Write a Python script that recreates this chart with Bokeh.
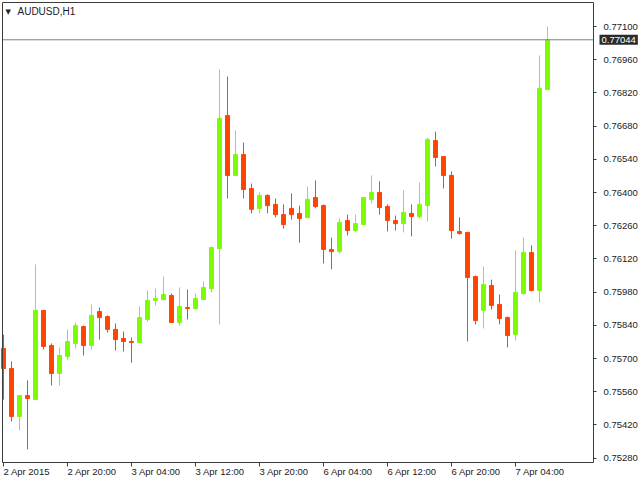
from bokeh.plotting import figure
from bokeh.models import (ColumnDataSource, FixedTicker, PrintfTickFormatter,
                          Label, Range1d, LinearAxis)
from bokeh.embed import file_html
from bokeh.resources import INLINE

symbol = "AUDUSD,H1"
bar_index = list(range(69))

open_ = [0.75742, 0.75658, 0.75456, 0.75544, 0.75527, 0.75903, 0.75755, 0.75637, 0.75709, 0.75764,
         0.75835, 0.75755, 0.75898, 0.75877, 0.75823, 0.75785, 0.75772, 0.75768, 0.75865, 0.75945,
         0.75949, 0.75966, 0.75852, 0.75915, 0.75911, 0.75949, 0.75995, 0.76164, 0.76725, 0.76472,
         0.76560, 0.76417, 0.76333, 0.76388, 0.76350, 0.76307, 0.76333, 0.76312, 0.76295, 0.76379,
         0.76345, 0.76160, 0.76151, 0.76282, 0.76240, 0.76265, 0.76371, 0.76400, 0.76341, 0.76282,
         0.76269, 0.76312, 0.76299, 0.76345, 0.76619, 0.76552, 0.76472, 0.76236, 0.76232, 0.76046,
         0.75903, 0.76008, 0.75928, 0.75873, 0.75801, 0.75974, 0.76147, 0.75987, 0.76834]

close = [0.75658, 0.75456, 0.75544, 0.75532, 0.75903, 0.75751, 0.75637, 0.75713, 0.75772, 0.75839,
         0.75755, 0.75882, 0.75873, 0.75823, 0.75780, 0.75772, 0.75768, 0.75873, 0.75945, 0.75953,
         0.75970, 0.75852, 0.75920, 0.75911, 0.75953, 0.76000, 0.76168, 0.76712, 0.76472, 0.76560,
         0.76413, 0.76329, 0.76388, 0.76345, 0.76307, 0.76265, 0.76307, 0.76291, 0.76371, 0.76341,
         0.76160, 0.76151, 0.76274, 0.76240, 0.76269, 0.76379, 0.76400, 0.76337, 0.76282, 0.76269,
         0.76316, 0.76299, 0.76350, 0.76624, 0.76548, 0.76472, 0.76240, 0.76227, 0.76042, 0.75860,
         0.76012, 0.75924, 0.75869, 0.75797, 0.75979, 0.76147, 0.75987, 0.76839, 0.77044]

high = [0.75801, 0.75688, 0.75544, 0.75608, 0.76097, 0.75903, 0.75764, 0.75747, 0.75823, 0.75852,
        0.75839, 0.75928, 0.75915, 0.75882, 0.75848, 0.75814, 0.75789, 0.75920, 0.75987, 0.75995,
        0.76046, 0.75974, 0.76000, 0.75991, 0.75974, 0.76025, 0.76172, 0.76919, 0.76889, 0.76662,
        0.76611, 0.76438, 0.76400, 0.76392, 0.76375, 0.76350, 0.76396, 0.76345, 0.76425, 0.76451,
        0.76350, 0.76210, 0.76291, 0.76307, 0.76307, 0.76379, 0.76472, 0.76447, 0.76350, 0.76303,
        0.76409, 0.76350, 0.76442, 0.76632, 0.76657, 0.76552, 0.76489, 0.76295, 0.76232, 0.76050,
        0.76088, 0.76033, 0.75970, 0.75877, 0.76156, 0.76210, 0.76177, 0.76978, 0.77100]

low = [0.75527, 0.75435, 0.75397, 0.75317, 0.75527, 0.75738, 0.75586, 0.75586, 0.75696, 0.75742,
       0.75713, 0.75738, 0.75780, 0.75810, 0.75734, 0.75730, 0.75683, 0.75768, 0.75856, 0.75924,
       0.75945, 0.75852, 0.75839, 0.75865, 0.75907, 0.75949, 0.75979, 0.75844, 0.76375, 0.76472,
       0.76375, 0.76312, 0.76312, 0.76312, 0.76295, 0.76248, 0.76286, 0.76189, 0.76291, 0.76333,
       0.76101, 0.76076, 0.76143, 0.76219, 0.76232, 0.76265, 0.76354, 0.76307, 0.76236, 0.76240,
       0.76232, 0.76215, 0.76291, 0.76278, 0.76510, 0.76417, 0.76206, 0.76223, 0.75772, 0.75844,
       0.75827, 0.75907, 0.75844, 0.75747, 0.75776, 0.75970, 0.75983, 0.75936, 0.76834]

price_ticks = [0.75280, 0.75420, 0.75560, 0.75700, 0.75840, 0.75980, 0.76120,
               0.76260, 0.76400, 0.76540, 0.76680, 0.76820, 0.76960, 0.77100]
time_tick_index = [0, 8, 16, 24, 32, 40, 48, 56, 64]
time_tick_labels = ["2 Apr 2015", "2 Apr 20:00", "3 Apr 04:00", "3 Apr 12:00",
                    "3 Apr 20:00", "6 Apr 04:00", "6 Apr 12:00", "6 Apr 20:00",
                    "7 Apr 04:00"]
last_price = 0.77044

# ---- styling / layout constants ----
BULL = "#7CFC00"
BEAR = "#FF4500"
FRAME = "#3c3c3c"
TEXT = "#222222"
FONT = "Liberation Sans"
W, H = 640, 480
BAR_PX = 8.0            # pixels per bar
PRICE_PER_PX = 0.00004216

x_start = -3.0 / BAR_PX
x_end = x_start + W / BAR_PX
x_left_edge = x_start + 2 / BAR_PX
x_price_axis = x_start + 593 / BAR_PX
y_end = 0.77100 + 26 * PRICE_PER_PX
y_start = y_end - H * PRICE_PER_PX
y_top_edge = y_end - 2 * PRICE_PER_PX
y_time_axis = y_end - 462 * PRICE_PER_PX

colors = [BULL if c >= o else BEAR for o, c in zip(open_, close)]
src = ColumnDataSource(dict(
    x=bar_index, open=open_, close=close, high=high, low=low,
    top=[max(o, c) for o, c in zip(open_, close)],
    bottom=[min(o, c) for o, c in zip(open_, close)],
    color=colors,
))

p = figure(width=W, height=H, output_backend="svg", toolbar_location=None,
           x_range=Range1d(x_start, x_end), y_range=Range1d(y_start, y_end),
           y_axis_location="right", min_border=0)
p.grid.visible = False
p.outline_line_color = None
p.background_fill_color = "white"
p.border_fill_color = "white"

# price axis (right)
ya = p.yaxis[0]
ya.fixed_location = x_price_axis
ya.bounds = (y_time_axis, y_top_edge)
ya.ticker = FixedTicker(ticks=price_ticks)
ya.formatter = PrintfTickFormatter(format="%.5f")
ya.major_tick_in = 0
ya.major_tick_out = 3
ya.minor_tick_out = 0
ya.minor_tick_in = 0
ya.axis_line_color = FRAME
ya.major_tick_line_color = FRAME
ya.major_label_standoff = 7
ya.major_label_text_font = FONT
ya.major_label_text_font_size = "9.5px"
ya.major_label_text_color = TEXT

# time axis (bottom): tick marks only, labels drawn left-aligned below
xa = p.xaxis[0]
xa.fixed_location = y_time_axis
xa.bounds = (x_left_edge, x_price_axis)
xa.ticker = FixedTicker(ticks=[], minor_ticks=time_tick_index)
xa.major_tick_in = 0
xa.major_tick_out = 0
xa.minor_tick_in = 0
xa.minor_tick_out = 4
xa.axis_line_color = FRAME
xa.minor_tick_line_color = FRAME

# left and top borders of the chart window
left_ax = LinearAxis(fixed_location=x_left_edge, bounds=(y_time_axis, y_top_edge),
                     ticker=FixedTicker(ticks=[]), axis_line_color=FRAME,
                     major_tick_out=0, minor_tick_out=0)
top_ax = LinearAxis(fixed_location=y_top_edge, bounds=(x_left_edge, x_price_axis),
                    ticker=FixedTicker(ticks=[]), axis_line_color=FRAME,
                    major_tick_out=0, minor_tick_out=0)
p.add_layout(left_ax, "left")
p.add_layout(top_ax, "above")

# candles
p.segment(x0="x", y0="low", x1="x", y1="high", source=src,
          line_color="color", line_width=1)
p.vbar(x="x", width=0.5, top="top", bottom="bottom", source=src,
       fill_color="color", line_color="color", line_width=1)

# current price line and tag
p.segment(x0=[x_left_edge], x1=[x_price_axis], y0=[last_price], y1=[last_price],
          line_color="#808080", line_width=1)
p.add_layout(Label(x=x_price_axis, y=last_price, x_offset=6,
                   text=f"{last_price:.5f}", text_align="left",
                   text_baseline="middle", text_color="white",
                   text_font=FONT, text_font_size="9.5px",
                   background_fill_color="#2b2b2b", padding=2))

# time labels, left-aligned at their ticks
for idx, lab in zip(time_tick_index, time_tick_labels):
    p.add_layout(Label(x=idx, y=y_time_axis, y_offset=-3, x_offset=0,
                       text=lab, text_align="left", text_baseline="top",
                       text_color=TEXT, text_font=FONT,
                       text_font_size="9.5px"))

# window caption
p.add_layout(Label(x=x_left_edge, y=y_top_edge, x_offset=3, y_offset=-9,
                   text="▼", text_align="left", text_baseline="middle",
                   text_color=TEXT, text_font="DejaVu Sans",
                   text_font_size="7px"))
p.add_layout(Label(x=x_left_edge, y=y_top_edge, x_offset=15, y_offset=-9,
                   text=symbol, text_align="left", text_baseline="middle",
                   text_color="#1a1a2a", text_font=FONT,
                   text_font_size="10px"))

open("out.html", "w").write(file_html(p, INLINE))
